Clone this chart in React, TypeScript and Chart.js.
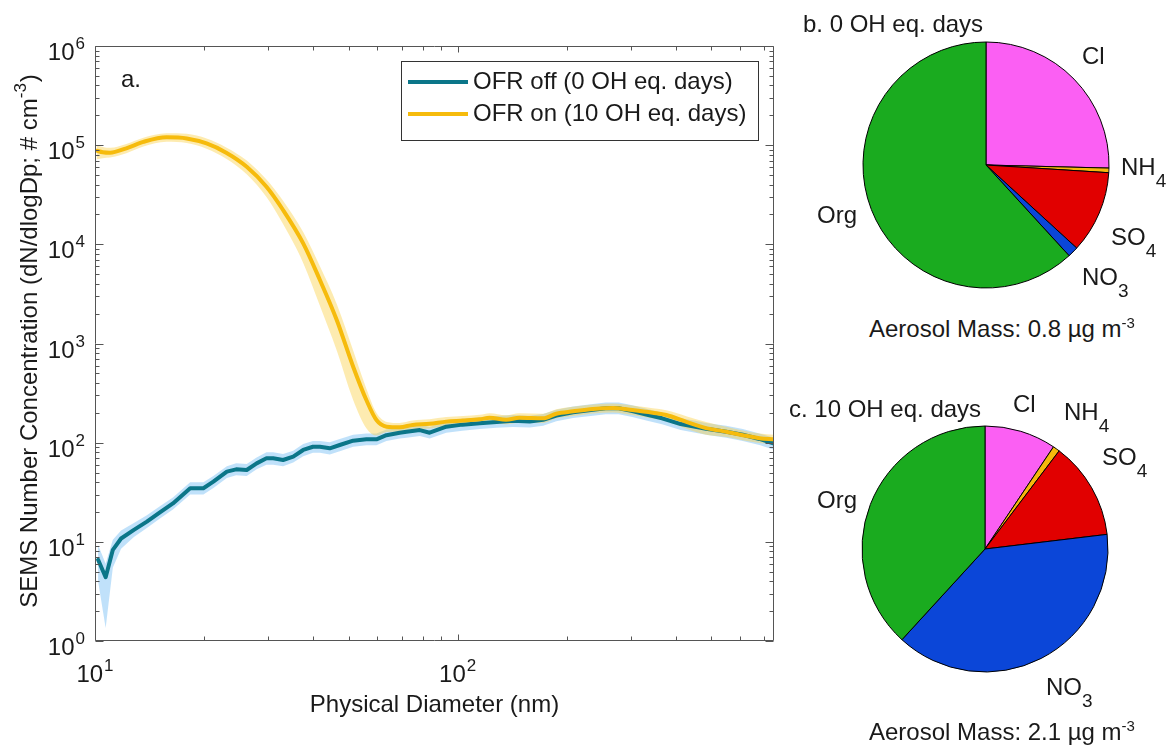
import React, { useEffect, useRef } from 'react';
import { Chart, registerables } from 'chart.js';

Chart.register(...registerables);

const FONT = '"Liberation Sans", Arial, Helvetica, sans-serif';

// ---- Panel a: SEMS size distributions ----
const offDiameter = [10.2, 10.7, 11.2, 11.8, 12.8, 13.9, 15.1, 16.4, 18.3, 19.9, 21.2, 23.1, 24.5, 26.2, 27.9, 29.7, 31.0, 33.0, 35.2, 37.5, 39.9, 41.7, 44.4, 47.3, 51.5, 56.0, 59.7, 63.6, 69.2, 72.3, 78.6, 83.7, 93, 103, 115, 128, 142, 158, 172, 187, 208, 236, 256, 278, 303, 331, 366, 412, 452, 484, 550, 611, 679, 745];
const offValue = [6.6, 4.4, 8.3, 10.8, 13.2, 16.0, 19.8, 24.4, 34.7, 34.7, 40.4, 51, 53.8, 53, 61.8, 69.5, 69.5, 66.9, 72.2, 84.4, 91, 91, 87.7, 94.7, 104.7, 108, 108, 119, 126, 129, 134, 126, 145, 152, 157, 162, 166, 163, 170, 188, 203, 215, 222, 222, 208, 192, 176, 154, 145, 138, 129, 120, 109, 98];
const offUpper = [9.3, 6.0, 10.5, 13.0, 15.5, 18.5, 22.8, 28, 40, 40, 46, 58, 62, 61, 71, 80, 80, 77, 83, 97, 104, 104, 101, 109, 120, 124, 124, 136, 144, 148, 153, 144, 166, 174, 180, 186, 190, 187, 195, 215, 232, 246, 254, 254, 238, 220, 201, 176, 166, 158, 148, 137, 124, 112];
const offLower = [4.0, 1.35, 5.5, 8.5, 11.2, 13.8, 17.2, 21.2, 30, 30, 35, 44, 47, 46, 54, 60, 60, 58, 63, 73, 79, 79, 76, 82, 91, 94, 94, 104, 110, 112, 117, 110, 126, 132, 137, 141, 144, 142, 148, 164, 177, 187, 193, 193, 181, 167, 153, 134, 126, 120, 112, 104, 95, 85];

const onDiameter = [10.1, 10.5, 11.0, 12.2, 13.6, 15.75, 17.9, 20.3, 23.0, 26.2, 29.7, 33.0, 37.5, 41.7, 46.4, 51.5, 56.0, 59.7, 63.7, 69.2, 75.1, 83.7, 93, 103.5, 115, 122.5, 136, 148, 172, 187, 208, 236, 268, 303, 345, 376, 427, 484, 550, 611, 679, 745];
const onValue = [88000, 85000, 84000, 93000, 108000, 120000, 117000, 104000, 84000, 60600, 38100, 22200, 10230, 4370, 1726, 583, 269, 169, 145, 143, 151, 155, 163, 167, 172, 178, 170, 178, 176, 196, 207, 219, 224, 213, 200, 190, 162, 140, 129, 119, 111, 108];
const onUpper = [100000, 96000, 94000, 103000, 119000, 132000, 130000, 117000, 95000, 70000, 45000, 27500, 13300, 6000, 2500, 850, 350, 200, 162, 158, 167, 172, 181, 186, 191, 198, 189, 198, 196, 217, 230, 243, 248, 237, 222, 212, 185, 162, 145, 133, 124, 120];
const onLower = [72000, 74000, 75000, 83000, 97000, 108000, 105000, 92000, 73000, 51000, 30000, 16000, 6500, 2400, 850, 270, 140, 118, 128, 129, 136, 139, 147, 150, 155, 160, 153, 160, 158, 176, 186, 197, 202, 190, 175, 165, 138, 120, 114, 106, 99, 97];

const seriesLabels = ['OFR off (0 OH eq. days)', 'OFR on (10 OH eq. days)'];
const xMin = 10;
const xMax = 745;
const yMin = 1;
const yMax = 1e6;
const xTickValues = [10, 100];
const xTickExponents = ['1', '2'];
const yTickValues = [1, 10, 100, 1000, 10000, 100000, 1000000];
const yTickExponents = ['0', '1', '2', '3', '4', '5', '6'];
const xTitle = 'Physical Diameter (nm)';
const yTitleMain = 'SEMS Number Concentration (dN/dlogDp; # cm';
const yTitleSup = '-3';
const yTitleEnd = ')';
const panelALabel = 'a.';

// ---- Panels b, c: composition pies ----
const pieCategories = ['Cl', 'NH4', 'SO4', 'NO3', 'Org'];
const pie0Values = [25.4, 0.6, 10.8, 1.4, 61.8];
const pie10Values = [9.4, 0.9, 12.8, 38.7, 38.2];
const pieColors = ['#fb5ff3', '#f6b80c', '#e10000', '#0b46d8', '#1aab1f'];

const TEAL = '#0b7689';
const YELLOW = '#f6bb0c';
const TEAL_BAND = 'rgba(140,200,245,0.55)';
const YELLOW_BAND = 'rgba(250,210,80,0.45)';
const AXIS = '#555555';
const TEXT = '#1a1a1a';

const pts = (xs: number[], ys: number[]) => xs.map((x, i) => ({ x, y: ys[i] }));

function drawPow(ctx: CanvasRenderingContext2D, base: string, exp: string, x: number, baseline: number, align: 'center' | 'right') {
  ctx.font = `24px ${FONT}`;
  const wb = ctx.measureText(base).width;
  ctx.font = `17px ${FONT}`;
  const we = ctx.measureText(exp).width;
  const total = wb + we + 1;
  const left = align === 'center' ? x - total / 2 : x - total;
  ctx.textAlign = 'left';
  ctx.textBaseline = 'alphabetic';
  ctx.font = `24px ${FONT}`;
  ctx.fillText(base, left, baseline);
  ctx.font = `17px ${FONT}`;
  ctx.fillText(exp, left + wb + 1, baseline - 11);
}

const decorPlugin = {
  id: 'decor',
  afterDraw(chart: any) {
    const { ctx, chartArea: a, scales } = chart;
    const xs = scales.x;
    const ys = scales.y;
    ctx.save();
    ctx.strokeStyle = AXIS;
    ctx.lineWidth = 1;
    const L = Math.round(a.left) + 0.5;
    const R = Math.round(a.right) - 0.5;
    const T = Math.round(a.top) + 0.5;
    const B = Math.round(a.bottom) - 0.5;
    ctx.beginPath();
    ctx.rect(L, T, R - L, B - T);
    ctx.stroke();
    // x ticks (inward, bottom and top)
    ctx.beginPath();
    for (let dec = 10; dec <= 1000; dec *= 10) {
      for (let m = 1; m <= 9; m++) {
        const v = m * dec;
        if (v < xMin || v > xMax) continue;
        const px = Math.round(xs.getPixelForValue(v)) + 0.5;
        const len = m === 1 ? 6 : 4;
        ctx.moveTo(px, B); ctx.lineTo(px, B - len);
        ctx.moveTo(px, T); ctx.lineTo(px, T + len);
      }
    }
    for (let dec = 1; dec <= 1e6; dec *= 10) {
      for (let m = 1; m <= 9; m++) {
        const v = m * dec;
        if (v < yMin || v > yMax) continue;
        const py = Math.round(ys.getPixelForValue(v)) + 0.5;
        const len = m === 1 ? 8 : 4;
        ctx.moveTo(L, py); ctx.lineTo(L + len, py);
        ctx.moveTo(R, py); ctx.lineTo(R - len, py);
      }
    }
    ctx.stroke();
    // tick labels
    ctx.fillStyle = TEXT;
    xTickValues.forEach((v, i) => {
      drawPow(ctx, '10', xTickExponents[i], xs.getPixelForValue(v), a.bottom + 41, 'center');
    });
    yTickValues.forEach((v, i) => {
      drawPow(ctx, '10', yTickExponents[i], a.left - 10, ys.getPixelForValue(v) + 14, 'right');
    });
    // x title
    ctx.font = `24px ${FONT}`;
    ctx.textAlign = 'center';
    ctx.textBaseline = 'alphabetic';
    ctx.fillText(xTitle, (a.left + a.right) / 2, a.bottom + 71);
    // y title (rotated)
    ctx.save();
    ctx.translate(37, 341);
    ctx.rotate(-Math.PI / 2);
    ctx.textAlign = 'left';
    ctx.font = `24px ${FONT}`;
    const w1 = ctx.measureText(yTitleMain).width;
    const w3 = ctx.measureText(yTitleEnd).width;
    ctx.font = `17px ${FONT}`;
    const w2 = ctx.measureText(yTitleSup).width;
    const tot = w1 + w2 + w3 + 1;
    let u = -tot / 2;
    ctx.font = `24px ${FONT}`;
    ctx.fillText(yTitleMain, u, 0);
    u += w1;
    ctx.font = `17px ${FONT}`;
    ctx.fillText(yTitleSup, u, -11);
    u += w2 + 1;
    ctx.font = `24px ${FONT}`;
    ctx.fillText(yTitleEnd, u, 0);
    ctx.restore();
    // panel label
    ctx.font = `24px ${FONT}`;
    ctx.textAlign = 'left';
    ctx.fillText(panelALabel, 121, 87);
    // legend box
    const lx = 401.5, ly = 61.5, lw = 357, lh = 79;
    ctx.fillStyle = '#ffffff';
    ctx.fillRect(lx, ly, lw, lh);
    ctx.strokeStyle = '#333333';
    ctx.lineWidth = 1;
    ctx.strokeRect(lx, ly, lw, lh);
    const legendColors = [TEAL, YELLOW];
    seriesLabels.forEach((lab, i) => {
      const yy = 82 + i * 32;
      ctx.strokeStyle = legendColors[i];
      ctx.lineWidth = 4;
      ctx.beginPath();
      ctx.moveTo(408, yy);
      ctx.lineTo(468, yy);
      ctx.stroke();
      ctx.fillStyle = TEXT;
      ctx.font = `24px ${FONT}`;
      ctx.fillText(lab, 473, yy + 7);
    });
    ctx.restore();
  },
};

function Lbl({ x, b, children, size = 24 }: { x: number; b: number; children: any; size?: number }) {
  return (
    <div
      style={{
        position: 'absolute',
        left: x,
        top: b - 20.3,
        fontSize: size,
        lineHeight: '24px',
        whiteSpace: 'nowrap',
        color: TEXT,
        fontFamily: FONT,
      }}
    >
      {children}
    </div>
  );
}

const Sub = ({ t }: { t: string }) => (
  <span style={{ fontSize: 19, position: 'relative', top: 12 }}>{t}</span>
);
const Sup = ({ t }: { t: string }) => (
  <span style={{ fontSize: 15, position: 'relative', top: -9 }}>{t}</span>
);

function makePie(canvas: HTMLCanvasElement, values: number[]) {
  return new Chart(canvas, {
    type: 'pie',
    data: {
      labels: pieCategories,
      datasets: [
        {
          data: values,
          backgroundColor: pieColors,
          borderColor: '#000000',
          borderWidth: 1,
          hoverOffset: 0,
        },
      ],
    },
    options: {
      responsive: false,
      animation: false,
      devicePixelRatio: 1,
      radius: 123,
      events: [],
      layout: { padding: 0 },
      plugins: { legend: { display: false }, tooltip: { enabled: false } },
    } as any,
  });
}

export default function App() {
  const mainRef = useRef<HTMLCanvasElement>(null);
  const pieBRef = useRef<HTMLCanvasElement>(null);
  const pieCRef = useRef<HTMLCanvasElement>(null);

  useEffect(() => {
    const charts: Chart[] = [];
    const band = (xs: number[], ys: number[], color: string, fill: any, order: number, smooth: boolean) => ({
      data: pts(xs, ys),
      borderColor: 'transparent',
      borderWidth: 0,
      pointRadius: 0,
      backgroundColor: color,
      fill,
      order,
      cubicInterpolationMode: smooth ? 'monotone' : 'default',
      tension: 0,
    });
    charts.push(
      new Chart(mainRef.current!, {
        type: 'line',
        data: {
          datasets: [
            band(offDiameter, offUpper, TEAL_BAND, '+1', 4, false),
            band(offDiameter, offLower, TEAL_BAND, false, 4, false),
            band(onDiameter, onUpper, YELLOW_BAND, '+1', 3, true),
            band(onDiameter, onLower, YELLOW_BAND, false, 3, true),
            {
              label: seriesLabels[0],
              data: pts(offDiameter, offValue),
              borderColor: TEAL,
              borderWidth: 4,
              pointRadius: 0,
              fill: false,
              order: 1,
              tension: 0,
              borderJoinStyle: 'round',
              borderCapStyle: 'round',
            },
            {
              label: seriesLabels[1],
              data: pts(onDiameter, onValue),
              borderColor: YELLOW,
              borderWidth: 4,
              pointRadius: 0,
              fill: false,
              order: 0,
              cubicInterpolationMode: 'monotone',
              borderJoinStyle: 'round',
              borderCapStyle: 'round',
            },
          ] as any,
        },
        options: {
          responsive: false,
          animation: false,
          devicePixelRatio: 1,
          events: [],
          layout: { padding: { left: 95, right: 16, top: 46, bottom: 106 } },
          scales: {
            x: { type: 'logarithmic', min: xMin, max: xMax, display: false },
            y: { type: 'logarithmic', min: yMin, max: yMax, display: false },
          },
          plugins: { legend: { display: false }, tooltip: { enabled: false } },
        } as any,
        plugins: [decorPlugin],
      })
    );
    charts.push(makePie(pieBRef.current!, pie0Values));
    charts.push(makePie(pieCRef.current!, pie10Values));
    return () => charts.forEach((c) => c.destroy());
  }, []);

  return (
    <div
      style={{
        position: 'absolute',
        left: 0,
        top: 0,
        width: 1169,
        height: 747,
        background: '#ffffff',
        overflow: 'hidden',
        fontFamily: FONT,
      }}
    >
      <canvas ref={mainRef} width={790} height={747} style={{ position: 'absolute', left: 0, top: 0, width: 790, height: 747 }} />
      <canvas ref={pieBRef} width={260} height={260} style={{ position: 'absolute', left: 985.5 - 130, top: 165 - 130, width: 260, height: 260 }} />
      <canvas ref={pieCRef} width={260} height={260} style={{ position: 'absolute', left: 985 - 130, top: 549 - 130, width: 260, height: 260 }} />

      <Lbl x={803} b={32}>b. 0 OH eq. days</Lbl>
      <Lbl x={1082} b={64}>Cl</Lbl>
      <Lbl x={1121} b={175}>NH<Sub t="4" /></Lbl>
      <Lbl x={1111} b={245}>SO<Sub t="4" /></Lbl>
      <Lbl x={1082} b={285}>NO<Sub t="3" /></Lbl>
      <Lbl x={817} b={223}>Org</Lbl>
      <Lbl x={869} b={337}>Aerosol Mass: 0.8 µg m<Sup t="-3" /></Lbl>

      <Lbl x={789} b={417}>c. 10 OH eq. days</Lbl>
      <Lbl x={1013} b={412}>Cl</Lbl>
      <Lbl x={1064} b={420}>NH<Sub t="4" /></Lbl>
      <Lbl x={1102} b={465}>SO<Sub t="4" /></Lbl>
      <Lbl x={817} b={508}>Org</Lbl>
      <Lbl x={1046} b={695}>NO<Sub t="3" /></Lbl>
      <Lbl x={869} b={740}>Aerosol Mass: 2.1 µg m<Sup t="-3" /></Lbl>
    </div>
  );
}
